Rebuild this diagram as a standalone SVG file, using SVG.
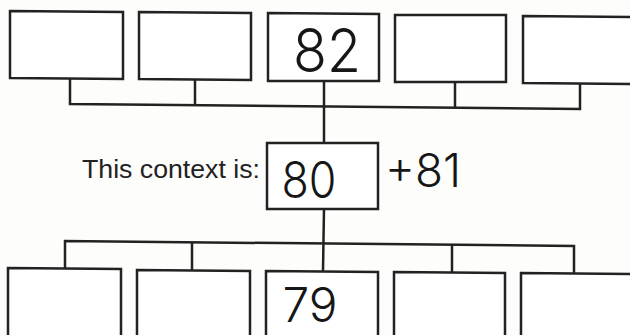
<svg xmlns="http://www.w3.org/2000/svg" width="630" height="335" viewBox="0 0 630 335">
<style>
.box{fill:#fff;stroke:#222;stroke-width:2.5}
.ln{fill:none;stroke:#222;stroke-width:2.5}
.lbl{font-family:"Liberation Sans",Arial,sans-serif;font-size:25px;fill:#222}
.hw{font-family:Inter,"DejaVu Sans",sans-serif;font-weight:300;fill:#161616}
</style>
<rect width="630" height="335" fill="#fdfdfb"/>
<g id="connectors">
<polyline class="ln" points="70,79 70,104 580,109 580,83"/>
<line class="ln" x1="195" y1="80" x2="195" y2="105"/>
<line class="ln" x1="455" y1="82" x2="455" y2="108"/>
<line class="ln" x1="324" y1="81" x2="324" y2="143"/>
<line class="ln" x1="324" y1="209" x2="323" y2="271"/>
<polyline class="ln" points="65,268 65,241 574,246 574,273"/>
<line class="ln" x1="192" y1="242" x2="192" y2="270"/>
<line class="ln" x1="452" y1="245" x2="452" y2="272"/>
</g>
<g id="top1"><polygon class="box" points="10,11 123,12 123,79 10,78"/></g>
<g id="top2"><polygon class="box" points="139,12 251,13 251,80 139,79"/></g>
<g id="top3"><polygon class="box" points="268,13 379,14 379,81 268,81"/><text class="hw" x="327" y="72" font-size="60" text-anchor="middle" textLength="68" lengthAdjust="spacingAndGlyphs">82</text></g>
<g id="top4"><polygon class="box" points="395,15 506,15 506,82 395,82"/></g>
<g id="top5"><polygon class="box" points="523,16 634,17 634,84 523,83"/></g>
<g id="middle"><polygon class="box" points="267,143 378,143 378,209 267,209"/><text class="hw" x="309" y="198" font-size="50" text-anchor="middle" textLength="55" lengthAdjust="spacingAndGlyphs">80</text></g>
<text class="lbl" x="82" y="178" textLength="178" lengthAdjust="spacingAndGlyphs">This context is:</text>
<text class="hw" x="385" y="187" font-size="46" textLength="76" lengthAdjust="spacingAndGlyphs">+81</text>
<g id="bot1"><polygon class="box" points="8,268 121,269 121,345 8,345"/></g>
<g id="bot2"><polygon class="box" points="137,270 250,271 250,345 137,345"/></g>
<g id="bot3"><polygon class="box" points="266,271 378,272 378,345 266,345"/><text class="hw" x="310" y="322" font-size="48" text-anchor="middle" textLength="55" lengthAdjust="spacingAndGlyphs">79</text></g>
<g id="bot4"><polygon class="box" points="394,272 505,273 505,345 394,345"/></g>
<g id="bot5"><polygon class="box" points="521,273 634,274 634,345 521,345"/></g>
</svg>
